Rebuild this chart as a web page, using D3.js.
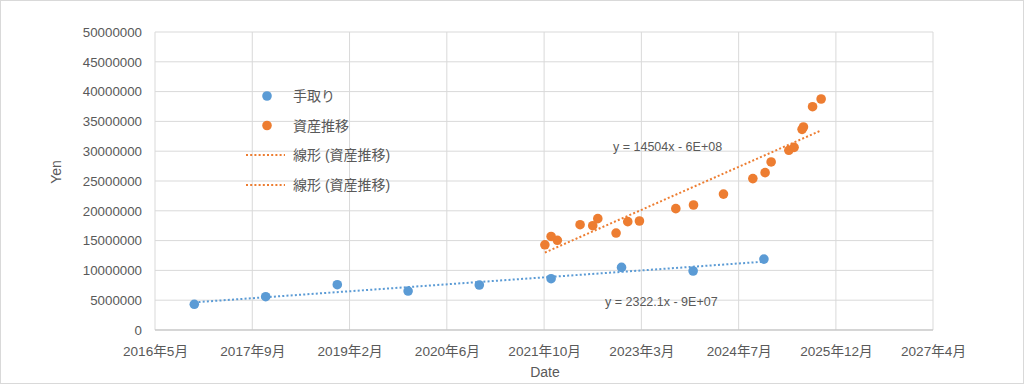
<!DOCTYPE html>
<html><head><meta charset="utf-8">
<script src="https://cdn.jsdelivr.net/npm/d3@7"></script>
<style>
html,body{margin:0;padding:0;background:#fff;}
svg text{font-family:"Liberation Sans","Noto Sans CJK JP",sans-serif;fill:#595959;}
</style></head><body>
<svg id="chart" width="1024" height="384"></svg>
<script>
// ---- data ----
const takeHomeDates = ["2016-11-28","2017-11-30","2018-12-03","2019-12-02","2020-12-02","2021-12-06","2022-12-03","2023-12-06","2024-12-04"];
const takeHomeValues = [4310000,5590000,7600000,6540000,7550000,8610000,10500000,9900000,11900000];
const assetDates = ["2021-11-04","2021-12-06","2022-01-07","2022-05-04","2022-07-08","2022-08-03","2022-11-05","2023-01-04","2023-03-05","2023-09-08","2023-12-08","2024-05-10","2024-10-08","2024-12-10","2025-01-10","2025-04-11","2025-05-08","2025-06-18","2025-06-25","2025-08-11","2025-09-24"];
const assetValues = [14300000,15700000,15050000,17670000,17500000,18680000,16270000,18180000,18290000,20360000,20970000,22800000,25400000,26400000,28200000,30150000,30650000,33670000,34060000,37470000,38760000];
const xTickDates = ["2016-05-10","2017-09-22","2019-02-04","2020-06-18","2021-10-31","2023-03-15","2024-07-27","2025-12-09","2027-04-22"];
const yTicks = [0,5000000,10000000,15000000,20000000,25000000,30000000,35000000,40000000,45000000,50000000];
const seriesNames = ["手取り","資産推移"];
const trendNames = ["線形 (資産推移)","線形 (資産推移)"];
const equations = ["y = 2322.1x - 9E+07","y = 14504x - 6E+08"];

const blue = "#5B9BD5", orange = "#ED7D31";
const W = 1024, H = 384;
const m = {l:155, t:32, r:91, b:54};
const parse = d3.timeParse("%Y-%m-%d");
const svg = d3.select("#chart");

svg.append("rect").attr("x",0.5).attr("y",0.5).attr("width",W-1).attr("height",H-1)
  .attr("fill","#fff").attr("stroke","#d9d9d9");

const xt = xTickDates.map(parse);
const x = d3.scaleTime().domain([xt[0], xt[xt.length-1]]).range([m.l, W-m.r]);
const y = d3.scaleLinear().domain([0,50000000]).range([H-m.b, m.t]);

// grid
const g = svg.append("g");
g.selectAll("line.h").data(yTicks).join("line")
  .attr("x1",m.l).attr("x2",W-m.r).attr("y1",d=>y(d)).attr("y2",d=>y(d))
  .attr("stroke","#d9d9d9").attr("stroke-width",1);
g.selectAll("line.v").data(xt).join("line")
  .attr("x1",d=>x(d)).attr("x2",d=>x(d)).attr("y1",m.t).attr("y2",H-m.b)
  .attr("stroke","#d9d9d9").attr("stroke-width",1);
svg.append("line").attr("x1",m.l).attr("x2",W-m.r).attr("y1",y(0)).attr("y2",y(0))
  .attr("stroke","#bfbfbf").attr("stroke-width",1);

// axes
const yAxis = d3.axisLeft(y).tickValues(yTicks).tickSize(0).tickPadding(13).tickFormat(d3.format("d"));
const ya = svg.append("g").attr("transform",`translate(${m.l},0)`).call(yAxis);
ya.select(".domain").remove();
ya.selectAll("text").attr("font-size",13.3).style("fill","#595959");

const fmt = d3.timeFormat("%Y年%-m月");
const xAxis = d3.axisBottom(x).tickValues(xt).tickSize(0).tickPadding(16).tickFormat(fmt);
const xa = svg.append("g").attr("transform",`translate(0,${H-m.b})`).call(xAxis);
xa.select(".domain").remove();
xa.selectAll("text").attr("font-size",13.6).style("fill","#595959");

svg.append("text").attr("x",545).attr("y",377).attr("text-anchor","middle").attr("font-size",14).text("Date");
svg.append("text").attr("transform","translate(61,172) rotate(-90)").attr("text-anchor","middle").attr("font-size",14).text("Yen");

// trends
function fit(ds, vs){
  const xs = ds.map(d=>+parse(d)/864e5);
  const n = xs.length, mx = d3.mean(xs), my = d3.mean(vs);
  let sxy=0,sxx=0;
  for(let i=0;i<n;i++){sxy+=(xs[i]-mx)*(vs[i]-my);sxx+=(xs[i]-mx)**2;}
  const s = sxy/sxx, b = my - s*mx;
  const x0 = d3.min(xs), x1 = d3.max(xs);
  return [[x0, s*x0+b],[x1, s*x1+b]];
}
function drawTrend(ds, vs, color){
  const p = fit(ds, vs);
  svg.append("line")
    .attr("x1",x(new Date(p[0][0]*864e5))).attr("y1",y(p[0][1]))
    .attr("x2",x(new Date(p[1][0]*864e5))).attr("y2",y(p[1][1]))
    .attr("stroke",color).attr("stroke-width",2).attr("stroke-dasharray","2,2.2");
}
drawTrend(takeHomeDates, takeHomeValues, blue);
drawTrend(assetDates, assetValues, orange);

// points
function drawPts(ds, vs, color){
  svg.append("g").selectAll("circle").data(ds.map((d,i)=>[parse(d),vs[i]])).join("circle")
    .attr("cx",d=>x(d[0])).attr("cy",d=>y(d[1])).attr("r",4.8).attr("fill",color);
}
drawPts(takeHomeDates, takeHomeValues, blue);
drawPts(assetDates, assetValues, orange);

// equations
svg.append("text").attr("x",605).attr("y",305.5).attr("font-size",12.5).text(equations[0]);
svg.append("text").attr("x",613).attr("y",151).attr("font-size",12.5).text(equations[1]);

// legend
const lg = svg.append("g");
[blue, orange].forEach((c,i)=>{
  const yy = 96 + i*29.5;
  lg.append("circle").attr("cx",267).attr("cy",yy).attr("r",4.8).attr("fill",c);
  lg.append("text").attr("x",293).attr("y",yy+5).attr("font-size",14).text(seriesNames[i]);
});
trendNames.forEach((t,i)=>{
  const yy = 155 + i*30;
  lg.append("line").attr("x1",246).attr("x2",285).attr("y1",yy).attr("y2",yy)
    .attr("stroke",orange).attr("stroke-width",2).attr("stroke-dasharray","2,2.2");
  lg.append("text").attr("x",293).attr("y",yy+5).attr("font-size",14).text(t);
});
</script>
</body></html>
